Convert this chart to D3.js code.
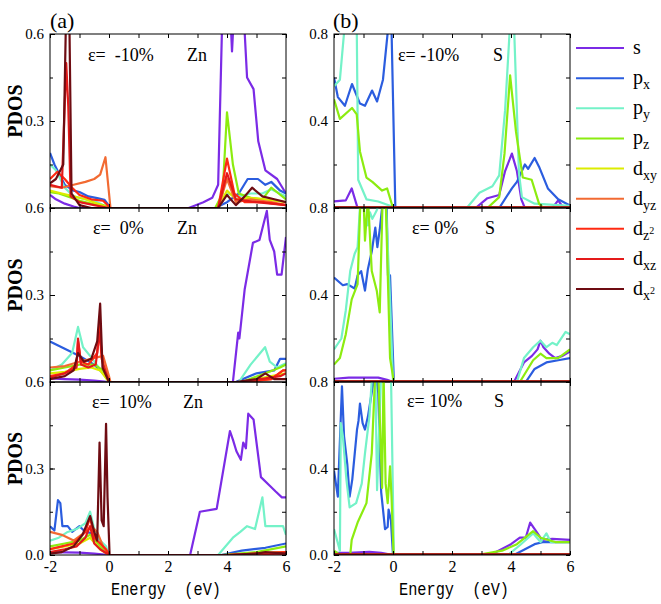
<!DOCTYPE html>
<html><head><meta charset="utf-8">
<script src="https://cdn.jsdelivr.net/npm/d3@7/dist/d3.min.js"></script>
<style>body{margin:0;background:#fff}svg{display:block}
.serif{font-family:"Liberation Serif","DejaVu Serif","Noto Serif",serif}
.mono{font-family:"Liberation Mono","DejaVu Sans Mono",monospace}
</style>
</head><body>
<svg id="c" width="661" height="604"></svg>
<script>
// ---------- categories / styling keys ----------
const orbitals = ["s","px","py","pz","dxy","dyz","dz2","dxz","dx2"];
const orbitalColors = ["#7b2be6","#2b5ddf","#74f2c8","#8cec10","#dcec00","#f26a32","#ff2a12","#e41a1a","#6e0c12"];
const xTickValues = [-2,0,2,4,6];
const xMinorTicks = [-2,-1,0,1,2,3,4,5,6];
const znYTicks = [0.3,0.6];
const znYMinor = [0,0.15,0.3,0.45,0.6];
const sYTicks = [0.4,0.8];
const sYMinor = [0,0.2,0.4,0.6,0.8];
const strainLabels = ["-10%","0%","10%"];

// ---------- Zn, strain -10% ----------
const znM10_s  = [[-2,0.045],[-1.8,0.03],[-1.5,0.015],[-1.2,0.005],[-1,0],[2.7,0],[3.2,0.02],[3.5,0.035],[3.7,0.08],[3.85,0.7],[4.1,0.7],[4.17,0.54],[4.25,0.7],[4.55,0.7],[4.68,0.45],[4.9,0.41],[5.06,0.23],[5.3,0.13],[5.7,0.1],[6,0.05]];
const znM10_px = [[-2,0.19],[-1.85,0.15],[-1.7,0.12],[-1.5,0.08],[-1.2,0.06],[-1,0.055],[-0.7,0.04],[-0.4,0.034],[-0.15,0.028],[0.05,0],[3.6,0],[4.0,0.02],[4.4,0.05],[4.7,0.1],[5.05,0.1],[5.3,0.08],[5.5,0.09],[5.8,0.06],[6,0.05]];
const znM10_py = [[-2,0.15],[-1.8,0.13],[-1.5,0.07],[-1.2,0.04],[-0.8,0.03],[-0.4,0.02],[0,0],[3.7,0],[4.0,0.05],[4.4,0.04],[4.8,0.05],[5.2,0.05],[5.5,0.065],[6,0.04]];
const znM10_pz = [[-2,0.055],[-1.7,0.05],[-1.4,0.04],[-1,0.025],[-0.6,0.015],[-0.2,0.01],[0,0],[3.6,0],[3.85,0.05],[4.0,0.33],[4.2,0.15],[4.4,0.05],[4.8,0.035],[5.2,0.03],[5.5,0.07],[5.75,0.05],[6,0.03]];
const znM10_dxy = [[-2,0.06],[-1.6,0.05],[-1.2,0.04],[-0.8,0.03],[-0.4,0.015],[0,0],[3.7,0],[4.0,0.06],[4.3,0.03],[4.8,0.035],[5.3,0.03],[6,0.02]];
const znM10_dyz = [[-2,0.075],[-1.6,0.07],[-1.2,0.08],[-0.8,0.09],[-0.5,0.1],[-0.3,0.115],[-0.12,0.175],[0.05,0],[3.7,0],[4.0,0.1],[4.3,0.02],[4.8,0.03],[5.5,0.02],[6,0.01]];
const znM10_dz2 = [[-2,0.1],[-1.75,0.125],[-1.5,0.1],[-1.25,0.07],[-1,0.045],[-0.6,0.03],[-0.2,0.025],[0.05,0],[3.7,0],[4.0,0.17],[4.25,0.05],[4.6,0.02],[5.2,0.02],[6,0.01]];
const znM10_dxz = [[-2,0.08],[-1.6,0.07],[-1.45,0.5],[-1.38,0.35],[-1.3,0.04],[-1,0.02],[-0.5,0.01],[0,0],[3.7,0],[4.0,0.12],[4.3,0.03],[5,0.02],[6,0.01]];
const znM10_dx2 = [[-2,0.085],[-1.8,0.1],[-1.55,0.15],[-1.45,0.7],[-1.35,0.7],[-1.27,0.05],[-1.0,0.01],[-0.6,0],[3.7,0],[4.0,0.045],[4.3,0.01],[4.6,0.04],[4.85,0.07],[5.2,0.04],[5.6,0.03],[6,0.02]];

// ---------- Zn, strain 0% ----------
const zn0_s  = [[-2,0.012],[-1.5,0.01],[-1,0.008],[-0.5,0.005],[0,0],[4.2,0],[4.38,0.17],[4.42,0.15],[4.6,0.32],[4.88,0.48],[5.1,0.49],[5.35,0.59],[5.45,0.49],[5.6,0.45],[5.7,0.37],[5.85,0.37],[6,0.5]];
const zn0_px = [[-2,0.14],[-1.5,0.115],[-1,0.09],[-0.5,0.06],[-0.3,0.04],[-0.1,0.02],[0,0],[4.3,0],[5,0.03],[5.6,0.04],[5.8,0.08],[6,0.08]];
const zn0_py = [[-2,0.04],[-1.6,0.06],[-1.25,0.1],[-1.05,0.19],[-0.88,0.12],[-0.6,0.085],[-0.2,0.03],[0,0],[4.4,0],[4.8,0.06],[5.29,0.12],[5.45,0.07],[5.7,0.05],[6,0.065]];
const zn0_pz = [[-2,0.04],[-1.5,0.05],[-1,0.06],[-0.5,0.06],[-0.2,0.04],[0,0],[4.5,0],[5.3,0.03],[5.8,0.05],[6,0.06]];
const zn0_dxy = [[-2,0.03],[-1.5,0.035],[-1,0.045],[-0.6,0.05],[-0.3,0.04],[0,0],[4.5,0],[5.5,0.02],[6,0.03]];
const zn0_dyz = [[-2,0.05],[-1.5,0.055],[-1,0.07],[-0.6,0.08],[-0.2,0.09],[0,0.02],[0.05,0],[4.5,0],[5.5,0.01],[5.9,0.04],[6,0.04]];
const zn0_dz2 = [[-2,0.02],[-1.5,0.03],[-1.1,0.06],[-1.05,0.14],[-0.95,0.07],[-0.7,0.06],[-0.4,0.1],[-0.33,0.2],[-0.25,0.08],[-0.1,0.03],[0,0],[4.5,0],[5.5,0.01],[5.9,0.04],[6,0.04]];
const zn0_dxz = [[-2,0.015],[-1.5,0.03],[-1.1,0.05],[-1.05,0.15],[-0.95,0.06],[-0.7,0.05],[-0.45,0.06],[-0.32,0.17],[-0.2,0.06],[0,0],[4.5,0],[5.8,0.02],[6,0.03]];
const zn0_dx2 = [[-2,0.01],[-1.5,0.02],[-1.2,0.04],[-1.05,0.1],[-0.85,0.07],[-0.6,0.08],[-0.4,0.14],[-0.3,0.27],[-0.22,0.05],[0,0],[4.3,0],[5.0,0.01],[5.3,0.03],[5.6,0.01],[6,0.01]];

// ---------- Zn, strain 10% ----------
const znP10_s  = [[-2,0.01],[-1,0.008],[-0.5,0.005],[0,0],[2.75,0],[3.08,0.15],[3.65,0.16],[4.1,0.43],[4.2,0.4],[4.32,0.36],[4.47,0.33],[4.55,0.39],[4.64,0.37],[4.72,0.49],[4.9,0.47],[5.15,0.27],[5.45,0.24],[5.65,0.22],[5.86,0.2],[6,0.2]];
const znP10_px = [[-2,0.1],[-1.85,0.085],[-1.73,0.19],[-1.65,0.18],[-1.58,0.1],[-1.4,0.1],[-1.25,0.08],[-1.0,0.1],[-0.8,0.08],[-0.55,0.075],[-0.35,0.06],[-0.1,0.01],[0,0],[3.8,0],[4.5,0.015],[5.3,0.025],[6,0.04]];
const znP10_py = [[-2,0.05],[-1.7,0.06],[-1.4,0.08],[-1.1,0.09],[-0.8,0.11],[-0.64,0.15],[-0.5,0.09],[-0.3,0.05],[-0.1,0.03],[0,0],[3.7,0],[4.2,0.06],[4.45,0.08],[4.68,0.1],[4.95,0.09],[5.2,0.2],[5.3,0.1],[5.9,0.1],[6,0.07]];
const znP10_pz = [[-2,0.03],[-1.5,0.04],[-1,0.05],[-0.64,0.07],[-0.3,0.03],[0,0],[3.8,0],[5,0.01],[6,0.03]];
const znP10_dxy = [[-2,0.02],[-1.5,0.03],[-1,0.04],[-0.64,0.06],[-0.3,0.02],[0,0],[4,0],[6,0.01]];
const znP10_dyz = [[-2,0.08],[-1.6,0.07],[-1.2,0.05],[-0.8,0.08],[-0.6,0.1],[-0.4,0.08],[-0.2,0.03],[0,0],[4,0],[6,0.01]];
const znP10_dz2 = [[-2,0.02],[-1.6,0.03],[-1.2,0.04],[-0.8,0.08],[-0.64,0.13],[-0.5,0.06],[-0.3,0.04],[-0.1,0.02],[0,0],[4,0],[6,0.01]];
const znP10_dxz = [[-2,0.01],[-1.5,0.02],[-1.1,0.03],[-0.8,0.06],[-0.64,0.1],[-0.5,0.04],[-0.3,0.02],[0,0],[4,0],[6,0.005]];
const znP10_dx2 = [[-2,0.005],[-1.6,0.01],[-1.2,0.03],[-0.9,0.07],[-0.64,0.135],[-0.5,0.08],[-0.4,0.05],[-0.32,0.39],[-0.25,0.12],[-0.18,0.1],[-0.1,0.455],[-0.05,0.2],[0.02,0],[4,0],[5.0,0.005],[5.3,0.01],[6,0.005]];

// ---------- S, strain -10% ----------
const sM10_s  = [[-2,0.03],[-1.6,0.035],[-1.4,0.09],[-1.2,0],[0,0],[2.8,0],[3.2,0.045],[3.6,0.06],[3.8,0.17],[4.03,0.25],[4.2,0.17],[4.35,0.04],[4.47,0],[5.4,0],[5.6,0.035],[5.75,0.005],[6,0]];
const sM10_px = [[-2,0.6],[-1.87,0.51],[-1.63,0.47],[-1.39,0.57],[-1.12,0.48],[-0.95,0.47],[-0.71,0.54],[-0.54,0.49],[-0.34,0.59],[-0.17,0.82],[-0.05,0.82],[0.08,0],[3.6,0],[4.03,0.09],[4.2,0.12],[4.47,0.2],[4.58,0.18],[4.8,0.23],[4.95,0.19],[5.25,0.09],[5.6,0.04],[5.95,0.015],[6,0.01]];
const sM10_py = [[-2,0.56],[-1.8,0.59],[-1.63,0.85],[-1.23,0.85],[-1.18,0.13],[-0.9,0.04],[-0.5,0.03],[-0.1,0.01],[0,0],[2.5,0],[2.93,0.07],[3.37,0.1],[3.6,0.15],[3.8,0.45],[3.97,0.85],[4.1,0.85],[4.27,0.16],[4.37,0.05],[4.8,0.02],[6,0.01]];
const sM10_pz = [[-2,0.5],[-1.8,0.41],[-1.39,0.46],[-1.23,0.43],[-1.12,0.26],[-0.9,0.14],[-0.7,0.12],[-0.37,0.08],[-0.2,0.09],[0,0],[3.2,0],[3.6,0.05],[3.78,0.25],[3.97,0.61],[4.17,0.35],[4.3,0.23],[4.4,0.14],[4.7,0.13],[4.95,0.02],[5.1,0],[6,0]];

// ---------- S, strain 0% ----------
const s0_s  = [[-2,0.015],[-1.5,0.02],[-1,0.02],[-0.5,0.02],[-0.2,0.01],[0,0],[4.1,0],[4.44,0.09],[4.71,0.12],[4.9,0.15],[5.0,0.19],[5.1,0.16],[5.3,0.13],[5.5,0.11],[5.75,0.12],[6,0.14]];
const s0_px = [[-2,0.48],[-1.7,0.445],[-1.55,0.45],[-1.3,0.43],[-1.2,0.49],[-1.08,0.51],[-0.95,0.42],[-0.85,0.52],[-0.72,0.6],[-0.6,0.71],[-0.53,0.62],[-0.45,0.7],[-0.33,0.85],[-0.22,0.85],[-0.17,0.49],[-0.1,0.49],[0.03,0],[4.5,0],[4.8,0.06],[5.2,0.09],[5.6,0.1],[6,0.11]];
const s0_py = [[-2,0.15],[-1.75,0.2],[-1.6,0.33],[-1.45,0.51],[-1.3,0.59],[-1.2,0.62],[-1.1,0.85],[-0.9,0.85],[-0.85,0.72],[-0.78,0.78],[-0.7,0.75],[-0.55,0.79],[-0.4,0.85],[-0.25,0.85],[-0.1,0.38],[0.0,0],[4.2,0],[4.44,0.11],[4.75,0.16],[5.0,0.19],[5.2,0.16],[5.4,0.18],[5.55,0.17],[5.85,0.23],[6,0.22]];
const s0_pz = [[-2,0.08],[-1.8,0.11],[-1.6,0.22],[-1.4,0.38],[-1.2,0.45],[-1.1,0.85],[-1.0,0.85],[-0.95,0.65],[-0.85,0.85],[-0.72,0.51],[-0.55,0.42],[-0.45,0.32],[-0.35,0.85],[-0.25,0.85],[-0.1,0.11],[0.03,0],[4.3,0],[4.75,0.1],[5.0,0.13],[5.2,0.11],[5.6,0.11],[6,0.15]];

// ---------- S, strain 10% ----------
const sP10_s  = [[-2,0.01],[-1.5,0.01],[-0.8,0.015],[-0.4,0.01],[0,0],[3.3,0],[4.0,0.05],[4.3,0.08],[4.5,0.08],[4.65,0.15],[4.85,0.11],[5.05,0.07],[5.4,0.075],[6,0.07]];
const sP10_px = [[-2,0.39],[-1.87,0.27],[-1.73,0.78],[-1.66,0.55],[-1.55,0.42],[-1.47,0.27],[-1.38,0.35],[-1.22,0.58],[-1.17,0.62],[-1.12,0.7],[-1.03,0.61],[-0.95,0.58],[-0.85,0.64],[-0.71,0.76],[-0.6,0.85],[-0.5,0.75],[-0.4,0.29],[-0.27,0.12],[-0.18,0.13],[-0.15,0.21],[-0.07,0.16],[0,0],[4.1,0],[4.8,0.05],[5.1,0.06],[6,0.06]];
const sP10_py = [[-2,0.12],[-1.8,0.02],[-1.77,0.61],[-1.7,0.55],[-1.58,0.35],[-1.47,0.22],[-1.25,0.24],[-1.06,0.33],[-0.95,0.47],[-0.8,0.64],[-0.7,0.85],[-0.6,0.85],[-0.54,0.3],[-0.4,0.85],[-0.07,0.85],[0.03,0],[3.9,0],[4.3,0.045],[4.75,0.1],[5.0,0.06],[5.2,0.1],[5.35,0.06],[6,0.06]];
const sP10_pz = [[-2,0.02],[-1.8,0],[-1.45,0],[-1.4,0.07],[-1.2,0.15],[-0.9,0.24],[-0.72,0.47],[-0.6,0.85],[-0.5,0.85],[-0.37,0.31],[-0.32,0.85],[-0.25,0.33],[-0.18,0.24],[-0.1,0.41],[-0.05,0.27],[0.02,0],[2.85,0],[3.7,0.02],[4.2,0.05],[4.75,0.11],[5.0,0.08],[5.5,0.06],[6,0.06]];
// d states on S are essentially zero
const sD_zero = [[-2,0.002],[6,0.002]];

// ---------- grouping ----------
const znM10 = [znM10_s,znM10_px,znM10_py,znM10_pz,znM10_dxy,znM10_dyz,znM10_dz2,znM10_dxz,znM10_dx2];
const zn0   = [zn0_s,zn0_px,zn0_py,zn0_pz,zn0_dxy,zn0_dyz,zn0_dz2,zn0_dxz,zn0_dx2];
const znP10 = [znP10_s,znP10_px,znP10_py,znP10_pz,znP10_dxy,znP10_dyz,znP10_dz2,znP10_dxz,znP10_dx2];
const sM10  = [sM10_s,sM10_px,sM10_py,sM10_pz,sD_zero,sD_zero,sD_zero,sD_zero,sD_zero];
const s0    = [s0_s,s0_px,s0_py,s0_pz,sD_zero,sD_zero,sD_zero,sD_zero,sD_zero];
const sP10  = [sP10_s,sP10_px,sP10_py,sP10_pz,sD_zero,sD_zero,sD_zero,sD_zero,sD_zero];

// ---------- layout ----------
const svg = d3.select("#c");
const cols = [{x0:50,x1:286},{x0:334,x1:570}];
const rows = [{y0:34,y1:208},{y0:208,y1:382},{y0:382,y1:555}];

const panels = [
  {col:0,row:0,data:znM10,yMax:0.6,maj:znYTicks,min:znYMinor,el:"Zn",epsX:88,elX:187,base:61},
  {col:0,row:1,data:zn0,yMax:0.6,maj:znYTicks,min:znYMinor,el:"Zn",epsX:93,elX:177,base:234},
  {col:0,row:2,data:znP10,yMax:0.6,maj:znYTicks,min:znYMinor,el:"Zn",epsX:92,elX:183,base:408},
  {col:1,row:0,data:sM10,yMax:0.8,maj:sYTicks,min:sYMinor,el:"S",epsX:398,elX:493,base:61},
  {col:1,row:1,data:s0,yMax:0.8,maj:sYTicks,min:sYMinor,el:"S",epsX:412,elX:485,base:234},
  {col:1,row:2,data:sP10,yMax:0.8,maj:sYTicks,min:sYMinor,el:"S",epsX:407,elX:494,base:407},
];
const epsSpacing = {0:"\u00a0\u00a0",1:"\u00a0"};

panels.forEach((p,i)=>{
  const c = cols[p.col], r = rows[p.row];
  const x = d3.scaleLinear().domain([-2,6]).range([c.x0,c.x1]);
  const y = d3.scaleLinear().domain([0,p.yMax]).range([r.y1,r.y0]);
  const clipId = "clip"+i;
  svg.append("clipPath").attr("id",clipId).append("rect")
    .attr("x",c.x0).attr("y",r.y0).attr("width",c.x1-c.x0).attr("height",r.y1-r.y0);
  const g = svg.append("g").attr("clip-path",`url(#${clipId})`);
  const line = d3.line().x(d=>x(d[0])).y(d=>y(d[1]));
  p.data.forEach((ser,k)=>{
    g.append("path").datum(ser).attr("d",line)
      .attr("fill","none").attr("stroke",orbitalColors[k])
      .attr("stroke-width",2.2).attr("stroke-linejoin","round");
  });
  svg.append("rect").attr("x",c.x0).attr("y",r.y0).attr("width",c.x1-c.x0).attr("height",r.y1-r.y0)
    .attr("fill","none").attr("stroke","#000").attr("stroke-width",1);
  const labels = p.row===2 ? [0].concat(p.maj) : p.maj;
  const ya = svg.append("g").attr("transform",`translate(${c.x0},0)`)
    .call(d3.axisLeft(y).tickValues(labels).tickSize(-5).tickPadding(6).tickFormat(d3.format(".1f")));
  ya.select(".domain").remove();
  ya.attr("font-family",null).attr("font-size",null);
  ya.selectAll("text").attr("class","serif").style("font-size","15px").attr("fill","#000");
  const ym = svg.append("g").attr("transform",`translate(${c.x0},0)`)
    .call(d3.axisLeft(y).tickValues(p.min).tickSize(-3).tickFormat(""));
  ym.select(".domain").remove();
  const yr = svg.append("g").attr("transform",`translate(${c.x1},0)`)
    .call(d3.axisRight(y).tickValues(p.min).tickSize(-4).tickFormat(""));
  yr.select(".domain").remove();
  const xt = svg.append("g").attr("transform",`translate(0,${r.y0})`)
    .call(d3.axisTop(x).tickValues(xMinorTicks).tickSize(-4).tickFormat(""));
  xt.select(".domain").remove();
  const xb = svg.append("g").attr("transform",`translate(0,${r.y1})`)
    .call(d3.axisBottom(x).tickValues(xMinorTicks).tickSize(-4).tickFormat(""));
  xb.select(".domain").remove();
  if(p.row===2){
    const xl = svg.append("g").attr("transform",`translate(0,${r.y1})`)
      .call(d3.axisBottom(x).tickValues(xTickValues).tickSize(0).tickPadding(6).tickFormat(d=>d<0?"-"+Math.abs(d):String(d)));
    xl.select(".domain").remove();
    xl.attr("font-family",null).attr("font-size",null);
    xl.selectAll("text").attr("class","serif").style("font-size","16px").attr("fill","#000");
    svg.append("text").attr("class","mono").attr("x",(c.x0+c.x1)/2+(p.col===0?-2:2)).attr("y",595)
      .attr("text-anchor","middle").style("font-size","18px")
      .attr("textLength",110).attr("lengthAdjust","spacingAndGlyphs")
      .text("Energy\u00a0\u00a0(eV)");
  }
  if(p.col===0){
    const cy = (r.y0+r.y1)/2 - 10;
    svg.append("text").attr("class","serif").attr("transform",`translate(22,${cy}) rotate(-90)`)
      .attr("text-anchor","middle").style("font-weight","bold")
      .style("font-size","20px").text("PDOS");
  }
  svg.append("text").attr("class","serif").attr("x",p.epsX).attr("y",p.base).style("font-size","18px")
    .text("ε="+epsSpacing[p.col]+strainLabels[p.row]);
  svg.append("text").attr("class","serif").attr("x",p.elX).attr("y",p.base).style("font-size","18px")
    .text(p.el);
});

svg.append("text").attr("class","serif").attr("x",50).attr("y",28).style("font-size","22px").text("(a)");
svg.append("text").attr("class","serif").attr("x",333).attr("y",28).style("font-size","22px").text("(b)");

// legend
const legendY = d3.scalePoint().domain(orbitals).range([48,289]);
const legendLabels = [
  {m:"s"},{m:"p",sub:"x"},{m:"p",sub:"y"},{m:"p",sub:"z"},{m:"d",sub:"xy"},{m:"d",sub:"yz"},
  {m:"d",sub:"z",sup:"2"},{m:"d",sub:"xz"},{m:"d",sub:"x",sup:"2"}
];
const lg = svg.append("g");
orbitals.forEach((o,k)=>{
  const yy = legendY(o);
  lg.append("line").attr("x1",576).attr("x2",624).attr("y1",yy).attr("y2",yy)
    .attr("stroke",orbitalColors[k]).attr("stroke-width",2);
  const t = lg.append("text").attr("class","serif").attr("x",633).attr("y",yy+6).style("font-size","20px");
  const L = legendLabels[k];
  t.append("tspan").text(L.m);
  if(L.sub){ t.append("tspan").style("font-size","14px").attr("dy",5).text(L.sub); }
  if(L.sup){ t.append("tspan").style("font-size","10px").attr("dy",-6).text(L.sup); }
});
</script>
</body></html>
